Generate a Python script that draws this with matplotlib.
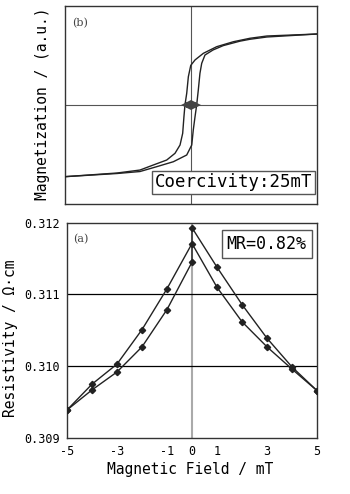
import numpy as np
import matplotlib.pyplot as plt

# hysteresis loop (normalised field / magnetisation)
desc_h = [1.0, 0.603, 0.468, 0.336, 0.204, 0.098, 0.032, -0.002, -0.021, -0.034,
          -0.048, -0.056, -0.066, -0.087, -0.127, -0.193, -0.299, -0.405, -0.587, -1.0]
desc_m = [0.717, 0.697, 0.674, 0.639, 0.589, 0.522, 0.455, 0.40, 0.286, 0.118,
          0.0, -0.118, -0.286, -0.404, -0.488, -0.556, -0.606, -0.657, -0.687, -0.724]
asc_h = [-1.0, -0.587, -0.405, -0.272, -0.140, -0.034, 0.006, 0.018, 0.032, 0.045,
         0.058, 0.071, 0.085, 0.111, 0.175, 0.256, 0.389, 0.468, 0.603, 1.0]
asc_m = [-0.724, -0.692, -0.672, -0.623, -0.573, -0.505, -0.404, -0.253, -0.118, 0.0,
         0.152, 0.320, 0.421, 0.505, 0.556, 0.600, 0.645, 0.664, 0.687, 0.717]
arrow_h = 0.036  # where the arrow heads sit (normalised field)

# magnetoresistance sweeps (mT, ohm cm)
sweep_down_h = [5, 4, 3, 2, 1, 0, 0, -1, -2, -3, -4, -5]
sweep_down_r = [0.30966, 0.30999, 0.31039, 0.31086, 0.31138, 0.31193, 0.31145,
                0.31079, 0.31027, 0.30992, 0.30967, 0.30939]
sweep_up_h = [-5, -4, -3, -2, -1, 0, 1, 2, 3, 4, 5]
sweep_up_r = [0.30939, 0.30975, 0.31003, 0.31051, 0.31108, 0.31171, 0.31110,
              0.31062, 0.31027, 0.30996, 0.30966]

xticks = [-5, -3, -1, 0, 1, 3, 5]
yticks = [0.309, 0.310, 0.311, 0.312]
ytick_labels = ["0.309", "0.310", "0.311", "0.312"]

mono = "DejaVu Sans Mono"
fig = plt.figure(figsize=(3.5, 4.94), dpi=100)

# ---- (b) magnetization loop
axb = fig.add_axes([65/350, 1-204/494, 252/350, 198/494])
axb.axvline(0, color="#555555", lw=0.8, zorder=1)
axb.axhline(0, color="#555555", lw=0.8, zorder=1)
axb.plot(desc_h, desc_m, color="#222222", lw=1.0, zorder=3)
axb.plot(asc_h, asc_m, color="#222222", lw=1.0, zorder=3)
axb.set_xlim(-1, 1)
axb.set_ylim(-1, 1)
axb.set_xticks([])
axb.set_yticks([])
# double arrow marking the coercive field
axb.plot([-arrow_h, arrow_h], [0, 0], color="#444444",
         lw=4, solid_capstyle="butt", zorder=4)
axb.plot([-arrow_h], [0], marker="<", color="#444444", markersize=7,
         markeredgewidth=0, zorder=4)
axb.plot([arrow_h], [0], marker=">", color="#444444", markersize=7,
         markeredgewidth=0, zorder=4)
axb.text(0.028, 0.914, "(b)", transform=axb.transAxes, family="DejaVu Serif",
         fontsize=8, color="#444444", va="center", ha="left")
axb.text(0.669, 0.109, "Coercivity:25mT", transform=axb.transAxes, family=mono,
         fontsize=12.5, ha="center", va="center", zorder=5,
         bbox=dict(boxstyle="square,pad=0.15", fc="white", ec="#555555", lw=1))
for s in axb.spines.values():
    s.set_color("#333333")
    s.set_linewidth(1.0)

# ---- (a) magnetoresistance
axa = fig.add_axes([67/350, 1-438/494, 250/350, 215.3/494])
axa.axvline(0, color="#aaaaaa", lw=1.5, zorder=1)
for yv in [0.310, 0.311]:
    axa.axhline(yv, color="black", lw=0.9, zorder=1)
axa.plot(sweep_down_h, sweep_down_r, color="#222222", lw=1.0, marker="D",
         markersize=3.2, zorder=3)
axa.plot(sweep_up_h, sweep_up_r, color="#222222", lw=1.0, marker="D",
         markersize=3.2, zorder=3)
axa.set_xlim(-5, 5)
axa.set_ylim(0.309, 0.312)
axa.set_xticks(xticks)
axa.set_xticklabels([str(t) for t in xticks], family=mono, fontsize=8.5)
axa.set_yticks(yticks)
axa.set_yticklabels(ytick_labels, family=mono, fontsize=8.5)
axa.tick_params(length=0, pad=5)
axa.text(0.023, 0.924, "(a)", transform=axa.transAxes, family="DejaVu Serif",
         fontsize=8, color="#444444", va="center", ha="left")
axa.text(0.798, 0.901, "MR=0.82%", transform=axa.transAxes, family=mono,
         fontsize=12, ha="center", va="center", zorder=5,
         bbox=dict(boxstyle="square,pad=0.3", fc="white", ec="#555555", lw=1))
for s in axa.spines.values():
    s.set_color("#333333")
    s.set_linewidth(1.0)

fig.text(0.121, 0.790, "Magnetization / (a.u.)", rotation=90, ha="center",
         va="center", family=mono, fontsize=10.5)
fig.text(0.029, 0.315, "Resistivity / Ω·cm", rotation=90, ha="center",
         va="center", family=mono, fontsize=10.5)
fig.text(0.543, 0.049, "Magnetic Field / mT", ha="center", va="center",
         family=mono, fontsize=10.5)

fig.savefig("out.png", dpi=100)
